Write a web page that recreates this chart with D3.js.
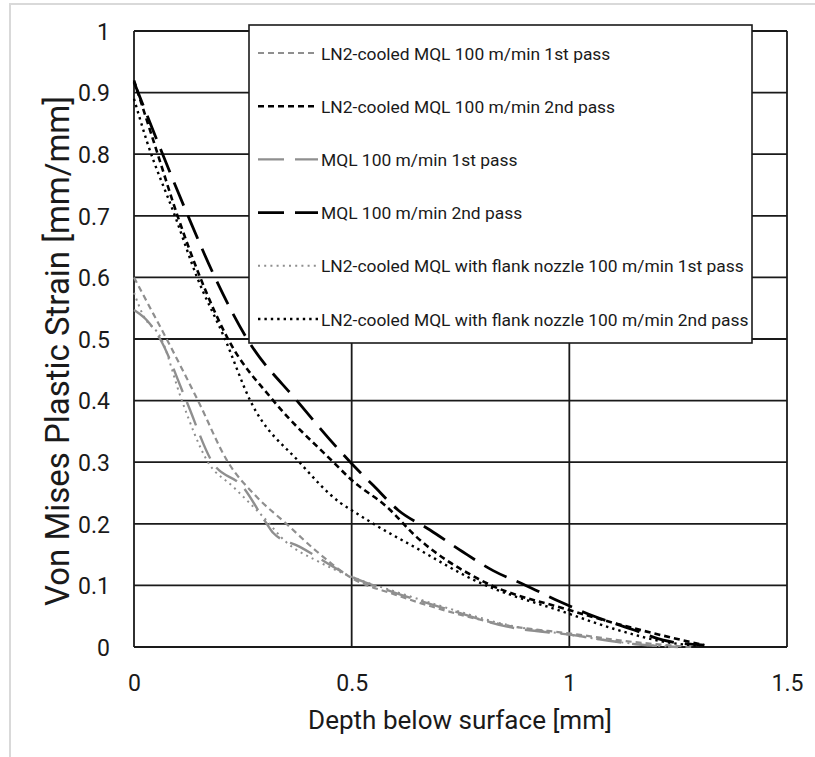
<!DOCTYPE html>
<html><head><meta charset="utf-8">
<script src="https://cdn.jsdelivr.net/npm/d3@7"></script>
<style>html,body{margin:0;padding:0;background:#fff;}svg{display:block;font-family:Bahnschrift,Roboto,sans-serif;}</style>
</head><body><svg id="c" width="815" height="757"></svg>
<script>
// ---- data ----
const seriesNames = [
  "LN2-cooled MQL 100 m/min 1st pass",
  "LN2-cooled MQL 100 m/min 2nd pass",
  "MQL 100 m/min 1st pass",
  "MQL 100 m/min 2nd pass",
  "LN2-cooled MQL with flank nozzle 100 m/min 1st pass",
  "LN2-cooled MQL with flank nozzle 100 m/min 2nd pass"
];
const ln2Pass1X = [0, 0.03, 0.075, 0.147, 0.216, 0.28, 0.35, 0.42, 0.5, 0.6, 0.726, 0.857, 1.0, 1.15, 1.28];
const ln2Pass1Y = [0.60, 0.56, 0.50, 0.40, 0.30, 0.245, 0.20, 0.155, 0.112, 0.085, 0.057, 0.035, 0.022, 0.008, 0.0];
const ln2Pass2X = [0, 0.05, 0.10, 0.152, 0.216, 0.32, 0.458, 0.5, 0.58, 0.65, 0.795, 1.0, 1.15, 1.31];
const ln2Pass2Y = [0.92, 0.81, 0.70, 0.60, 0.50, 0.40, 0.30, 0.271, 0.228, 0.178, 0.109, 0.06, 0.03, 0.003];
const mqlPass1X = [0, 0.03, 0.06, 0.12, 0.18, 0.25, 0.305, 0.32, 0.38, 0.5, 0.6, 0.726, 0.857, 1.0, 1.16, 1.25];
const mqlPass1Y = [0.547, 0.53, 0.50, 0.40, 0.30, 0.26, 0.20, 0.185, 0.163, 0.114, 0.088, 0.06, 0.033, 0.02, 0.004, 0.0];
const mqlPass2X = [0, 0.06, 0.124, 0.186, 0.26, 0.374, 0.497, 0.55, 0.607, 0.68, 0.754, 0.825, 0.90, 0.98, 1.06, 1.147, 1.216, 1.31];
const mqlPass2Y = [0.917, 0.81, 0.70, 0.60, 0.50, 0.40, 0.30, 0.262, 0.222, 0.19, 0.155, 0.124, 0.10, 0.073, 0.049, 0.028, 0.011, 0.003];
const flankPass1X = [0, 0.02, 0.063, 0.11, 0.17, 0.228, 0.297, 0.35, 0.42, 0.5, 0.6, 0.726, 0.857, 1.0, 1.15, 1.24];
const flankPass1Y = [0.575, 0.54, 0.50, 0.40, 0.30, 0.26, 0.211, 0.17, 0.14, 0.114, 0.09, 0.062, 0.036, 0.02, 0.005, 0.0];
const flankPass2X = [0, 0.03, 0.094, 0.145, 0.209, 0.267, 0.38, 0.474, 0.5, 0.55, 0.65, 0.78, 0.995, 1.1, 1.24, 1.3];
const flankPass2Y = [0.89, 0.82, 0.70, 0.60, 0.50, 0.40, 0.30, 0.234, 0.222, 0.20, 0.16, 0.109, 0.055, 0.03, 0.006, 0.002];
const xTicks = [0, 0.5, 1, 1.5];
const xTickLabels = ["0", "0.5", "1", "1.5"];
const yTicks = [0, 0.1, 0.2, 0.3, 0.4, 0.5, 0.6, 0.7, 0.8, 0.9, 1];
const yTickLabels = ["0", "0.1", "0.2", "0.3", "0.4", "0.5", "0.6", "0.7", "0.8", "0.9", "1"];
const xTitle = "Depth below surface [mm]";
const yTitle = "Von Mises Plastic Strain [mm/mm]";

// ---- styles ----
const GRAY = "#8f8f8f";
const styles = [
  {color: GRAY, w: 2.2, dash: "6,4", cap: "butt"},
  {color: "#000", w: 2.6, dash: "6,4", cap: "butt"},
  {color: GRAY, w: 2.4, dash: "25,11", cap: "butt"},
  {color: "#000", w: 2.8, dash: "25,11", cap: "butt"},
  {color: GRAY, w: 2.0, dash: "2,4.2", cap: "butt"},
  {color: "#000", w: 2.4, dash: "2.4,4", cap: "butt"}
];
const seriesX = [ln2Pass1X, ln2Pass2X, mqlPass1X, mqlPass2X, flankPass1X, flankPass2X];
const seriesY = [ln2Pass1Y, ln2Pass2Y, mqlPass1Y, mqlPass2Y, flankPass1Y, flankPass2Y];

const svg = d3.select("#c");
svg.append("rect").attr("x", 10).attr("y", 4).attr("width", 820).attr("height", 770)
  .attr("fill", "#fff").attr("stroke", "#d9d9d9").attr("stroke-width", 2);

const L = 134, R = 787, T = 31, B = 647;
const x = d3.scaleLinear().domain([0, 1.5]).range([L, R]);
const y = d3.scaleLinear().domain([0, 1]).range([B, T]);

function fit(sel, target) {
  const node = sel.node();
  const fs = parseFloat(sel.attr("font-size"));
  const w = node.getComputedTextLength();
  const nf = fs * target / w;
  sel.attr("font-size", nf);
  return nf;
}

// grid
const g = svg.append("g");
g.selectAll(".hg").data(yTicks).enter().append("line")
  .attr("x1", L).attr("x2", R).attr("y1", d => y(d)).attr("y2", d => y(d))
  .attr("stroke", "#1a1a1a").attr("stroke-width", 1.8);
g.selectAll(".vg").data(xTicks).enter().append("line")
  .attr("y1", T).attr("y2", B).attr("x1", d => x(d)).attr("x2", d => x(d))
  .attr("stroke", "#1a1a1a").attr("stroke-width", 1.8);

// axes (labels only)
const xAxis = d3.axisBottom(x).tickValues(xTicks).tickSize(0).tickPadding(0)
  .tickFormat((d, i) => xTickLabels[i]);
const xa = svg.append("g").attr("transform", `translate(0,${B})`).call(xAxis);
xa.select(".domain").remove();
xa.selectAll("text").attr("font-size", 23).attr("dy", null).attr("y", 44)
  .attr("fill", "#1a1a1a").attr("font-family", "Bahnschrift,Roboto,sans-serif");

const yAxis = d3.axisLeft(y).tickValues(yTicks).tickSize(0).tickPadding(0)
  .tickFormat((d, i) => yTickLabels[i]);
const ya = svg.append("g").attr("transform", `translate(${110},0)`).call(yAxis);
ya.select(".domain").remove();
ya.selectAll("text").attr("font-size", 23).attr("x", 0).attr("dy", "0.36em")
  .attr("fill", "#1a1a1a").attr("font-family", "Bahnschrift,Roboto,sans-serif");

// lines
const line = d3.line().x(d => x(d[0])).y(d => y(d[1])).curve(d3.curveMonotoneX);
seriesX.forEach((xs, i) => {
  const pts = xs.map((v, j) => [v, seriesY[i][j]]);
  const s = styles[i];
  svg.append("path").datum(pts).attr("d", line).attr("fill", "none")
    .attr("stroke", s.color).attr("stroke-width", s.w)
    .attr("stroke-dasharray", s.dash).attr("stroke-linecap", s.cap);
});

// titles
const xt = svg.append("text").attr("x", 460).attr("y", 729).attr("text-anchor", "middle")
  .attr("font-size", 24).attr("fill", "#1a1a1a").text(xTitle);
fit(xt, 304);
const yt = svg.append("text").attr("transform", "translate(69,351) rotate(-90)")
  .attr("text-anchor", "middle").attr("font-size", 26).attr("fill", "#1a1a1a").text(yTitle);
fit(yt, 510);

// legend
const lg = svg.append("g");
lg.append("rect").attr("x", 249).attr("y", 25).attr("width", 503).attr("height", 318)
  .attr("fill", "#fff").attr("stroke", "#1a1a1a").attr("stroke-width", 1.6);
const rowY = d3.scaleLinear().domain([0, 5]).range([53, 319]);
const texts = [];
seriesNames.forEach((name, i) => {
  const s = styles[i];
  const yy = rowY(i);
  lg.append("line").attr("x1", 258).attr("x2", 318).attr("y1", yy).attr("y2", yy)
    .attr("stroke", s.color).attr("stroke-width", s.w)
    .attr("stroke-dasharray", i === 2 || i === 3 ? "26,11" : s.dash);
  texts.push(lg.append("text").attr("x", 321).attr("y", yy + 6.5).attr("font-size", 17)
    .attr("fill", "#1a1a1a").text(name));
});
const nf = fit(texts[5], 428);
texts.forEach(t => t.attr("font-size", nf));
</script></body></html>
